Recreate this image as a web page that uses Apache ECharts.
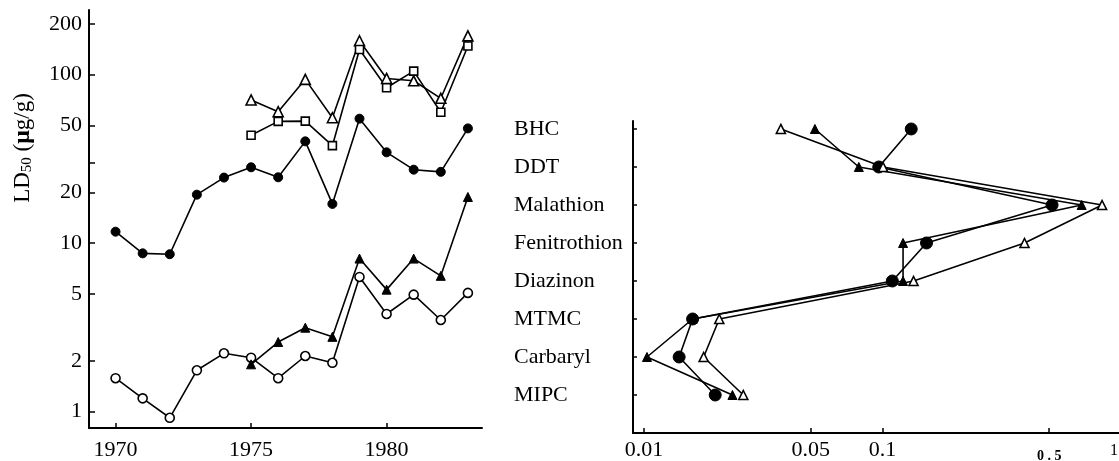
<!DOCTYPE html>
<html>
<head>
<meta charset="utf-8">
<script src="https://cdn.jsdelivr.net/npm/echarts@6/dist/echarts.min.js"></script>
<style>html,body{margin:0;padding:0;background:#fff}#c{width:1119px;height:461px}</style>
</head>
<body>
<div id="c"></div>
<script>
// ---- Left panel data (LD50 µg/g by year) ----
var years = [1970,1971,1972,1973,1974,1975,1976,1977,1978,1979,1980,1981,1982,1983];
var filledCircleLeft = [11.7,8.7,8.6,19.4,24.5,28.2,24.6,40.2,17.1,54.8,34.6,27.3,26.5,48];
var openCircleLeft = [1.58,1.20,0.92,1.76,2.22,2.09,1.58,2.14,1.95,6.3,3.8,4.95,3.5,5.07];
var lateYears = [1975,1976,1977,1978,1979,1980,1981,1982,1983];
var openTriangleLeft = [70.8,60.3,93.8,55.5,159,95,92,72.4,170];
var openSquareLeft = [43.7,52.8,53,37.9,141,83.7,105,59.8,148];
var filledTriangleLeft = [1.91,2.59,3.15,2.78,8.1,5.3,8.1,6.4,18.8];
var leftYTicks = [1,2,5,10,20,30,50,100,200];
var leftYLabels = [1,2,5,10,20,50,100,200];
var leftXLabels = [1970,1975,1980];

// ---- Right panel data ----
var insecticides = ['BHC','DDT','Malathion','Fenitrothion','Diazinon','MTMC','Carbaryl','MIPC'];
var filledCircleRight = [0.132,0.0965,0.514,0.153,0.110,0.0160,0.01405,0.0199];
var filledTriangleRight = [0.0521,0.0796,0.684,0.122,0.122,0.0160,0.0103,0.0235];
var openTriangleRight = [0.0375,0.1006,0.833,0.394,0.135,0.0207,0.0178,0.0261];
var rightXLabels = [0.01,0.05,0.1,0.5,1];

var FONT = 'Liberation Serif, "DejaVu Serif", serif';
var chart = echarts.init(document.getElementById('c'), null, {renderer:'canvas'});

function pairs(xs, ys){ return ys.map(function(v,i){ return [xs[i], v]; }); }
function catPairs(vals){ return vals.map(function(v,i){ return [v, i]; }); }

var lineStyle = {color:'#000', width:1.6};
function filled(){ return {color:'#000', borderColor:'#000', borderWidth:1}; }
function open(){ return {color:'#fff', borderColor:'#000', borderWidth:1.6}; }

function s(xi, yi, data, symbol, size, style){
  return {type:'line', xAxisIndex:xi, yAxisIndex:yi, data:data, symbol:symbol, symbolSize:size,
    showAllSymbol:true, lineStyle:lineStyle, itemStyle:style, z:3, silent:true};
}

var option = {
  animation:false,
  backgroundColor:'#fff',
  textStyle:{fontFamily:FONT, color:'#000'},
  grid:[
    {left:89, top:10, width:393, height:418, outerBoundsMode:'none', containLabel:false},
    {left:633, top:121, width:488, height:312, outerBoundsMode:'none', containLabel:false}
  ],
  xAxis:[
    {gridIndex:0, type:'value', min:1969.02, max:1983.52,
      axisLine:{onZero:false, lineStyle:{color:'#000', width:2}},
      axisTick:{inside:true, length:5, lineStyle:{color:'#000', width:1.5}, customValues:leftXLabels},
      axisLabel:{customValues:leftXLabels, color:'#000', fontFamily:FONT, fontSize:22, margin:11,
        formatter:function(v){ return String(v); }},
      splitLine:{show:false}},
    {gridIndex:1, type:'log', min:0.009, max:1,
      axisLine:{onZero:false, lineStyle:{color:'#000', width:2}},
      axisTick:{inside:true, length:5, lineStyle:{color:'#000', width:1.5}, customValues:rightXLabels},
      axisLabel:{customValues:rightXLabels, color:'#000', fontFamily:FONT, fontSize:22, margin:6,
        hideOverlap:false, showMaxLabel:true,
        formatter:function(v){
          var r = Math.round(v*1000)/1000;
          if (r === 0.5) return '{s|0 . 5}';
          if (r === 1) return '{o|1}';
          return String(r);
        },
        rich:{s:{fontSize:14, fontWeight:'bold', fontFamily:FONT, padding:[10,0,0,0]},
              o:{fontSize:16, fontFamily:FONT, padding:[4,14,0,0]}}},
      splitLine:{show:false}, minorTick:{show:false}}
  ],
  yAxis:[
    {gridIndex:0, type:'log', min:0.8, max:242,
      axisLine:{onZero:false, lineStyle:{color:'#000', width:2}},
      axisTick:{inside:true, length:6, lineStyle:{color:'#000', width:1.5}, customValues:leftYTicks},
      axisLabel:{customValues:leftYLabels, color:'#000', fontFamily:FONT, fontSize:22, margin:7,
        formatter:function(v){ return String(Math.round(v)); }},
      splitLine:{show:false}, minorTick:{show:false}},
    {gridIndex:1, type:'value', inverse:true, min:-0.21, max:8,
      axisLine:{onZero:false, lineStyle:{color:'#000', width:2}},
      axisTick:{inside:true, length:4, lineStyle:{color:'#000', width:1.5}, customValues:[0,1,2,3,4,5,6,7]},
      axisLabel:{customValues:[0,1,2,3,4,5,6,7], color:'#000', fontFamily:FONT, fontSize:22,
        align:'left', margin:119,
        formatter:function(v){ return insecticides[Math.round(v)] || ''; }},
      splitLine:{show:false}}
  ],
  graphic:[
    {type:'text', x:23, y:148, rotation:Math.PI/2,
      style:{text:'{a|LD}{b|50}{a| (}{m|μ}{a|g/g)}', align:'center', verticalAlign:'middle',
        fill:'#000',
        rich:{a:{fontFamily:FONT, fontSize:23, fill:'#000'},
              b:{fontFamily:FONT, fontSize:15, fill:'#000', padding:[9,0,0,0]},
              m:{fontFamily:FONT, fontSize:24, fontWeight:'bold', fill:'#000'}}}}
  ],
  series:[
    s(0,0,pairs(years, filledCircleLeft),'circle',9,filled()),
    s(0,0,pairs(years, openCircleLeft),'circle',9,open()),
    s(0,0,pairs(lateYears, openTriangleLeft),'triangle',10,open()),
    s(0,0,pairs(lateYears, openSquareLeft),'rect',8,open()),
    s(0,0,pairs(lateYears, filledTriangleLeft),'triangle',9,filled()),
    s(1,1,catPairs(filledCircleRight),'circle',12,filled()),
    s(1,1,catPairs(filledTriangleRight),'triangle',9,filled()),
    s(1,1,catPairs(openTriangleRight),'triangle',9,open())
  ]
};
chart.setOption(option);
</script>
</body>
</html>
